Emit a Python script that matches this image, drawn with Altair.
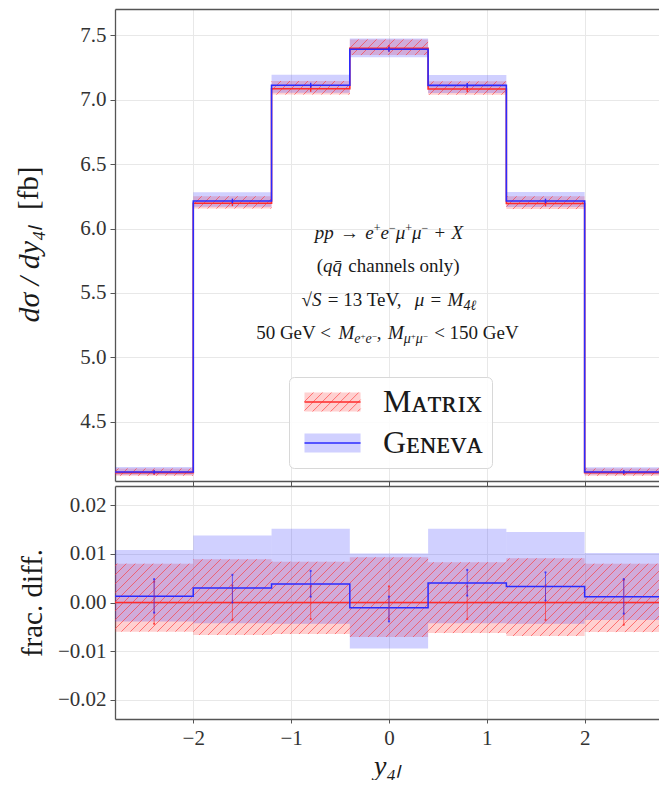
import math
import altair as alt
import pandas as pd

# ------------------------------------------------------------------ values
edges = [-2.8, -2.0, -1.2, -0.4, 0.4, 1.2, 2.0, 2.8]

matrix = [4.104, 6.196, 7.086, 7.400, 7.084, 6.194, 4.104]
matrix_lo = [4.079, 6.155, 7.040, 7.347, 7.039, 6.151, 4.079]
matrix_hi = [4.137, 6.251, 7.146, 7.469, 7.143, 6.250, 4.137]
matrix_err = [0.018, 0.022, 0.024, 0.025, 0.024, 0.022, 0.019]

geneva = [4.109, 6.214, 7.113, 7.392, 7.112, 6.214, 4.109]
geneva_lo = [4.088, 6.169, 7.055, 7.330, 7.053, 6.167, 4.089]
geneva_hi = [4.148, 6.282, 7.194, 7.475, 7.192, 6.284, 4.146]
geneva_err = [0.014, 0.018, 0.019, 0.019, 0.019, 0.018, 0.014]

diff_matrix = [0.0, 0.0, 0.0, 0.0, 0.0, 0.0, 0.0]
diff_matrix_lo = [-0.0060, -0.0067, -0.0065, -0.0071, -0.0063, -0.0069, -0.0061]
diff_matrix_hi = [0.0080, 0.0089, 0.0084, 0.0093, 0.0083, 0.0091, 0.0080]
diff_matrix_bar_lo = [-0.0044, -0.0036, -0.0034, -0.0034, -0.0034, -0.0036, -0.0046]
diff_matrix_bar_hi = [0.0043, 0.0035, 0.0033, 0.0033, 0.0033, 0.0035, 0.0047]

diff_geneva = [0.0013, 0.0030, 0.0038, -0.0011, 0.0040, 0.0033, 0.0012]
diff_geneva_lo = [-0.0039, -0.0043, -0.0044, -0.0095, -0.0043, -0.0044, -0.0036]
diff_geneva_hi = [0.0108, 0.0138, 0.0152, 0.0101, 0.0152, 0.0145, 0.0102]
diff_geneva_bar_lo = [-0.0021, 0.0000, 0.0012, -0.0039, 0.0014, 0.0004, -0.0023]
diff_geneva_bar_hi = [0.0048, 0.0057, 0.0065, 0.0012, 0.0067, 0.0062, 0.0048]

x_ticks = [-2, -1, 0, 1, 2]
top_ticks = [4.5, 5.0, 5.5, 6.0, 6.5, 7.0, 7.5]
diff_ticks = [-0.02, -0.01, 0.0, 0.01, 0.02]
series_names = ["Matrix", "Geneva"]

# ------------------------------------------------------------------ style
W = 544
H_TOP = 472
H_BOT = 233
X_DOM = [-2.8, 2.76]
Y_TOP = [4.039, 7.705]
Y_BOT = [-0.024, 0.024]

SERIF = "Liberation Serif"
RED = "#ff2b2b"
BLUE = "#2b2bff"
HATCH_RED = "#ff3030"
BAND_ALPHA = 0.22
HATCH_ALPHA = 0.6
HATCH_STEP = 9.0
FRAME = "#555555"
GRID = "#e8e8e8"
TEXT = "#1a1a1a"

KX = W / (X_DOM[1] - X_DOM[0])
KY_TOP = H_TOP / (Y_TOP[1] - Y_TOP[0])

bin_lo = edges[:-1]
bin_hi = edges[1:]
bin_mid = [(a + b) / 2 for a, b in zip(bin_lo, bin_hi)]


def band_frame(lo, hi, name):
    return pd.DataFrame({"x": bin_lo, "x2": bin_hi, "lo": lo, "hi": hi, "band": name})


def step_frame(vals, name):
    return pd.DataFrame({"x": edges, "y": list(vals) + [vals[-1]],
                         "curve": name, "i": list(range(len(edges)))})


def bar_frame(lo, hi):
    return pd.DataFrame({"x": bin_mid, "lo": lo, "hi": hi})


def hatch_frame(frame, ydom, height, name):
    """Diagonal '/' hatch strokes clipped to each band rectangle."""
    ky = height / (ydom[1] - ydom[0])
    rows = []
    for r in frame.itertuples():
        x0 = (r.x - X_DOM[0]) * KX
        x1 = (min(r.x2, X_DOM[1]) - X_DOM[0]) * KX
        y0 = (r.lo - ydom[0]) * ky
        y1 = (r.hi - ydom[0]) * ky
        n0 = math.ceil((x0 - y1) / HATCH_STEP)
        n1 = math.floor((x1 - y0) / HATCH_STEP)
        for n in range(n0, n1 + 1):
            k = n * HATCH_STEP
            xs = max(x0, y0 + k)
            xe = min(x1, y1 + k)
            if xe - xs > 0.2:
                rows.append({"x": X_DOM[0] + xs / KX, "y": ydom[0] + (xs - k) / ky,
                             "x2": X_DOM[0] + xe / KX, "y2": ydom[0] + (xe - k) / ky,
                             "hatch": name})
    return pd.DataFrame(rows)


def legend_hatch_path(x0=-1.0, x1=4.9, y0=-1.0, y1=1.0, step=0.95):
    parts = []
    k = x0 - (y1 - y0)
    while k < x1:
        xs, ys = k, y1
        xe, ye = k + (y1 - y0), y0
        if xs < x0:
            ys = y1 - (x0 - xs)
            xs = x0
        if xe > x1:
            ye = y1 - (x1 - k)
            xe = x1
        if xe > xs:
            parts.append(f"M{xs:.3f},{ys:.3f}L{xe:.3f},{ye:.3f}")
        k += step
    return "".join(parts)


# ------------------------------------------------------------------ text helpers
REG = {" ": .33, "(": .333, ")": .333, "+": .564, ",": .25, "−": .564, ".": .25,
       "<": .564, "=": .564, "G": .722, "M": .889, "S": .556, "T": .611, "V": .722,
       "X": .722, "a": .444, "c": .444, "e": .444, "h": .5, "l": .278, "n": .5,
       "o": .5, "s": .389, "y": .5, "→": 1.0, "√": .549}
ITA = {" ": .22, "p": .5, "e": .444, "μ": .5, "X": .611, "M": .833, "S": .5, "q": .5,
       "ℓ": .42, "4": .5, "+": .675, "−": .675}


def piece_width(text, italic, size):
    table = ITA if italic else REG
    return sum(table.get(ch, .5) for ch in text if ch != "\u0304") * size


F = 19
STYLES = {
    "rm": (False, F, 0),
    "it": (True, F, 0),
    "sub": (True, 14, 4),
    "sup": (False, 12, -7),
    "ssup": (False, 9, 0),
}

annotation = [
    (5.916, [("pp", "it"), (" → ", "rm"), ("e", "it"), ("+", "sup"), ("e", "it"), ("−", "sup"),
             ("μ", "it"), ("+", "sup"), ("μ", "it"), ("−", "sup"), (" + ", "rm"), ("X", "it")]),
    (5.660, [("(", "rm"), ("qq\u0304", "it"), (" channels only)", "rm")]),
    (5.402, [("√", "rm"), ("S", "it"), (" = 13 TeV, ", "rm"), ("μ", "it"), (" = ", "rm"),
             ("M", "it"), ("4ℓ", "sub")]),
    (5.145, [("50 GeV <", "rm"), (" M", "it"), ("e", "sub"), ("+", "ssup"), ("e", "sub"),
             ("−", "ssup"), (", ", "rm"), ("M", "it"), ("μ", "sub"), ("+", "ssup"),
             ("μ", "sub"), ("−", "ssup"), (" < 150 GeV", "rm")]),
]

rows = []
for base_y, pieces in annotation:
    widths = [piece_width(t, STYLES[s][0], STYLES[s][1]) for t, s in pieces]
    cursor = -sum(widths) / 2
    for (t, s), w in zip(pieces, widths):
        italic, size, shift = STYLES[s]
        # outer blanks are trimmed when drawn, so step over them here
        lead = len(t) - len(t.lstrip(" "))
        start = cursor + piece_width(" " * lead, italic, size)
        rows.append({"x": start / KX, "y": base_y - shift / KY_TOP, "text": t.strip(" "),
                     "size": size, "style": "italic" if italic else "normal"})
        cursor += w
notes = pd.DataFrame(rows)

# ------------------------------------------------------------------ scales / axes
xs = alt.Scale(domain=X_DOM, nice=False, zero=False)
ys_top = alt.Scale(domain=Y_TOP, nice=False, zero=False)
ys_bot = alt.Scale(domain=Y_BOT, nice=False, zero=False)

# the top edge of each frame is drawn by an unlabeled top axis
frame_top_axis = alt.Axis(orient="top", labels=False, ticks=False, grid=False, title=None,
                          domain=True)
x_axis_top_panel = alt.Axis(orient="bottom", values=x_ticks, labels=False, title=None, grid=True)
x_axis_bot_panel = alt.Axis(orient="bottom", values=x_ticks, format="d", grid=True,
                            title="y₄ₗ", titleFontStyle="italic", titleFontSize=28,
                            titleBaseline="alphabetic", titleY=55, tickSize=4)
# italic part of the y title runs upward from the bottom; the unit follows upright
Y_TITLE_X = -86
Y_TITLE_BOTTOM = 313
y_axis_top_panel = alt.Axis(values=top_ticks, format=".1f", grid=True,
                            title="dσ / dy₄ₗ", titleFontStyle="italic", titleFontSize=30,
                            titleBaseline="middle", titleAlign="left",
                            titleX=Y_TITLE_X, titleY=Y_TITLE_BOTTOM)
y_axis_bot_panel = alt.Axis(values=diff_ticks, format=".2f", grid=True,
                            title="frac. diff.", titleFontSize=29,
                            titleBaseline="middle", titleX=-83)

# ------------------------------------------------------------------ legend
LABEL_EXPR = "indexof(datum.label, 'Matrix') >= 0 ? 'Mᴀᴛʀɪx' : 'Gᴇɴᴇᴠᴀ'"
legend_common = dict(title=None, orient="none", legendX=174, legendY=368, symbolSize=361,
                     labelFont=SERIF, labelFontSize=32, labelOffset=53, rowPadding=9,
                     padding=9, labelExpr=LABEL_EXPR, labelColor=TEXT)
fill_legend = alt.Legend(**legend_common, symbolType="M-1,-1H4.9V1H-1Z",
                         symbolOpacity=BAND_ALPHA, symbolStrokeWidth=0,
                         strokeColor="#d8d8d8", fillColor="rgba(255,255,255,0.85)",
                         cornerRadius=5, zindex=0)
hatch_legend = alt.Legend(**legend_common, symbolType=legend_hatch_path(),
                          symbolStrokeWidth=1, symbolOpacity=HATCH_ALPHA,
                          labelOpacity=0, zindex=1)
line_legend = alt.Legend(**legend_common, symbolType="M-1,0H4.9", symbolStrokeWidth=1.6,
                         labelOpacity=0, zindex=2)

# ------------------------------------------------------------------ upper panel
top_bands = pd.concat([band_frame(matrix_lo, matrix_hi, "Matrix band"),
                       band_frame(geneva_lo, geneva_hi, "Geneva band")], ignore_index=True)
top_hatch = hatch_frame(band_frame(matrix_lo, matrix_hi, "Matrix band"), Y_TOP, H_TOP, "Matrix hatch")

bands_t = alt.Chart(top_bands).mark_rect(opacity=BAND_ALPHA, strokeWidth=0, clip=True).encode(
    x=alt.X("x:Q", scale=xs, axis=x_axis_top_panel),
    x2="x2:Q",
    y=alt.Y("lo:Q", scale=ys_top, axis=y_axis_top_panel),
    y2="hi:Q",
    fill=alt.Fill("band:N", scale=alt.Scale(domain=["Matrix band", "Geneva band"], range=[RED, BLUE]),
                  legend=fill_legend),
)
hatch_t = alt.Chart(top_hatch).mark_rule(strokeWidth=1, opacity=HATCH_ALPHA, clip=True).encode(
    x=alt.X("x:Q", scale=xs, axis=None), x2="x2:Q",
    y=alt.Y("y:Q", scale=ys_top), y2="y2:Q",
    color=alt.Color("hatch:N", scale=alt.Scale(domain=["Matrix hatch"], range=[HATCH_RED]),
                    legend=hatch_legend),
)
curve_scale = alt.Scale(domain=series_names, range=[RED, BLUE])


def step_layer(frame, yscale, legend):
    return alt.Chart(frame).mark_line(interpolate="step-after", strokeWidth=1.6, clip=True).encode(
        x=alt.X("x:Q", scale=xs, axis=None),
        y=alt.Y("y:Q", scale=yscale),
        stroke=alt.Stroke("curve:N", scale=curve_scale, legend=legend),
        order="i:Q",
    )


def err_layer(frame, yscale, color, width=1.4, opacity=1.0):
    return alt.Chart(frame).mark_rule(strokeWidth=width, color=color, opacity=opacity,
                                      clip=True).encode(
        x=alt.X("x:Q", scale=xs, axis=None),
        y=alt.Y("lo:Q", scale=yscale), y2="hi:Q",
    )


top_err_m = bar_frame([m - e for m, e in zip(matrix, matrix_err)],
                      [m + e for m, e in zip(matrix, matrix_err)])
top_err_g = bar_frame([g - e for g, e in zip(geneva, geneva_err)],
                      [g + e for g, e in zip(geneva, geneva_err)])


def note_layer(style, xaxis=None):
    return alt.Chart(notes[notes["style"] == style]).mark_text(
        font=SERIF, align="left", baseline="alphabetic", fontStyle=style, color=TEXT
    ).encode(
        x=alt.X("x:Q", scale=xs, axis=xaxis),
        y=alt.Y("y:Q", scale=ys_top),
        text="text:N",
        size=alt.Size("size:Q", scale=None, legend=None),
    )


# upright unit that continues the rotated y title
unit_label = alt.Chart(pd.DataFrame({"unit": ["[fb]"]})).mark_text(
    font=SERIF, fontSize=29, angle=270, align="left", baseline="middle", color=TEXT
).encode(
    x=alt.value(Y_TITLE_X),
    y=alt.value(Y_TITLE_BOTTOM - 112),
    text="unit:N",
)

top = alt.layer(
    bands_t,
    hatch_t,
    step_layer(step_frame(matrix, "Matrix"), ys_top, line_legend),
    err_layer(top_err_m, ys_top, RED),
    step_layer(step_frame(geneva, "Geneva"), ys_top, line_legend),
    err_layer(top_err_g, ys_top, BLUE),
    note_layer("normal", frame_top_axis),
    note_layer("italic"),
    unit_label,
).properties(width=W, height=H_TOP)

# ------------------------------------------------------------------ lower panel
bot_m_band = band_frame(diff_matrix_lo, diff_matrix_hi, "m")
bot_g_band = band_frame(diff_geneva_lo, diff_geneva_hi, "g")
bot_hatch = hatch_frame(bot_m_band, Y_BOT, H_BOT, "m")


def band_layer(frame, color, xaxis=None, yaxis=alt.Undefined):
    return alt.Chart(frame).mark_rect(opacity=BAND_ALPHA, strokeWidth=0, color=color,
                                      clip=True).encode(
        x=alt.X("x:Q", scale=xs, axis=xaxis), x2="x2:Q",
        y=alt.Y("lo:Q", scale=ys_bot, axis=yaxis), y2="hi:Q",
    )


def plain_step(frame, color, xaxis=None):
    return alt.Chart(frame).mark_line(interpolate="step-after", strokeWidth=1.5, color=color,
                                      clip=True).encode(
        x=alt.X("x:Q", scale=xs, axis=xaxis),
        y=alt.Y("y:Q", scale=ys_bot),
        order="i:Q",
    )


def end_points(frame, color):
    pts = pd.concat([frame[["x", "lo"]].rename(columns={"lo": "v"}),
                     frame[["x", "hi"]].rename(columns={"hi": "v"})], ignore_index=True)
    return alt.Chart(pts).mark_point(filled=True, size=5, color=color, opacity=0.8,
                                     clip=True).encode(
        x=alt.X("x:Q", scale=xs, axis=None),
        y=alt.Y("v:Q", scale=ys_bot),
    )


bot_bar_m = bar_frame(diff_matrix_bar_lo, diff_matrix_bar_hi)
bot_bar_g = bar_frame(diff_geneva_bar_lo, diff_geneva_bar_hi)

bottom = alt.layer(
    band_layer(bot_m_band, RED, x_axis_bot_panel, y_axis_bot_panel),
    band_layer(bot_g_band, BLUE),
    alt.Chart(bot_hatch).mark_rule(strokeWidth=1, opacity=HATCH_ALPHA, color=HATCH_RED,
                                   clip=True).encode(
        x=alt.X("x:Q", scale=xs, axis=None), x2="x2:Q",
        y=alt.Y("y:Q", scale=ys_bot), y2="y2:Q",
    ),
    plain_step(step_frame(diff_matrix, "Matrix"), RED, frame_top_axis),
    plain_step(step_frame(diff_geneva, "Geneva"), BLUE),
    err_layer(bot_bar_m, ys_bot, RED, 0.8, 0.8),
    end_points(bot_bar_m, RED),
    err_layer(bot_bar_g, ys_bot, BLUE, 0.8, 0.8),
    end_points(bot_bar_g, BLUE),
).properties(width=W, height=H_BOT)

chart = alt.vconcat(top, bottom, spacing=5, bounds="flush").properties(
    padding={"left": 14, "top": 9, "right": 0, "bottom": 0},
    background="white",
).configure_view(stroke=None).configure_axis(
    labelFont=SERIF, labelFontSize=21, labelColor="#333333", labelPadding=4,
    titleFont=SERIF, titleColor=TEXT, titleFontWeight="normal",
    tickColor=FRAME, tickSize=5, tickWidth=1,
    domainColor=FRAME, domainWidth=1.3,
    gridColor=GRID, gridWidth=1,
)

chart.save("out.html", embed_options={"renderer": "svg", "actions": False})
